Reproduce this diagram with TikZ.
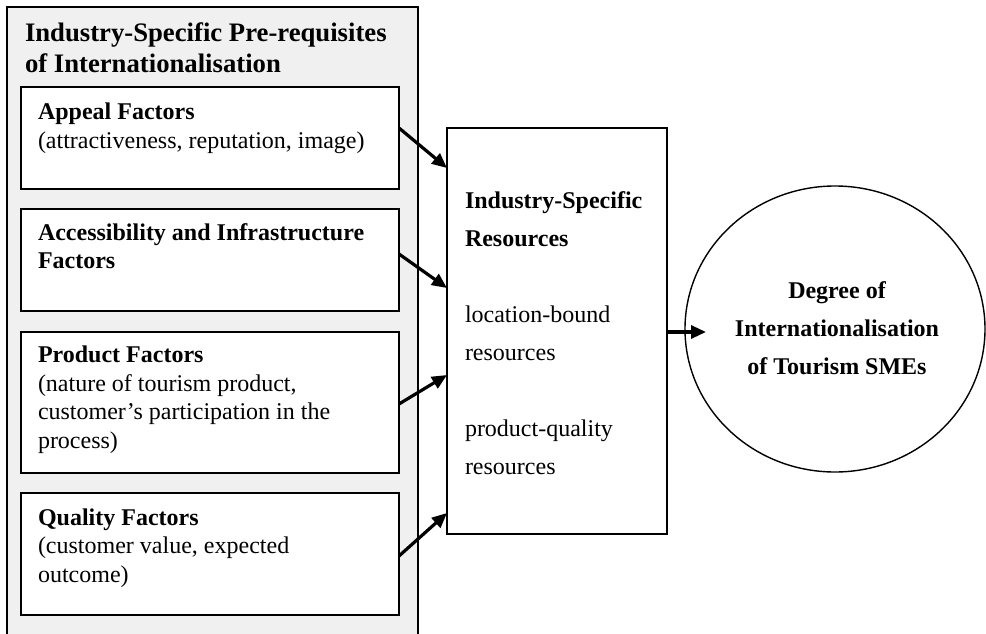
\documentclass[tikz,border=0pt]{standalone}
\usepackage{fontspec}
\setmainfont{Liberation Serif}
\usetikzlibrary{arrows.meta,shapes.geometric}
\definecolor{panelgray}{HTML}{F0F0F0}
\tikzset{
  panel/.style={draw=black, line width=1.5pt, fill=panelgray, outer sep=0pt, inner sep=0pt},
  factorbox/.style={draw=black, line width=1.4pt, fill=white, outer sep=0pt, inner sep=0pt, minimum width=378pt},
  resbox/.style={draw=black, line width=1.4pt, fill=white, outer sep=0pt, inner sep=0pt},
  goal/.style={draw=black, line width=1.4pt, ellipse, fill=white, outer sep=0pt, inner sep=0pt},
  label/.style={anchor=base west, inner sep=0pt, outer sep=0pt},
  flow/.style={line width=3.2pt, -{Triangle[length=15pt,width=13pt]}},
}
\newcommand{\bodyfont}{\fontsize{24}{28.5}\selectfont}
\begin{document}
\begin{tikzpicture}[x=1pt,y=-1pt]
  \useasboundingbox (0,0) rectangle (986,634);
  \begin{scope}
    \clip (0,0) rectangle (986,634);
    % left panel with the four factor groups
    \node[panel, minimum width=411pt, minimum height=653pt] (pre) at (212.5,333.5) {};
  \end{scope}
  \node[label] (pretitle) at (25,42) {\parbox[t]{390pt}{\fontsize{26.7}{31}\selectfont\bfseries
    Industry-Specific Pre-requisites\\of Internationalisation}};

  \node[factorbox, minimum height=102pt] (appeal) at (210,138) {};
  \node[factorbox, minimum height=102pt] (access) at (210,260) {};
  \node[factorbox, minimum height=141pt] (product) at (210,402.5) {};
  \node[factorbox, minimum height=122pt] (quality) at (210,554) {};

  \node[label] (appealtext) at (38,120) {\parbox[t]{360pt}{\bodyfont
    \textbf{Appeal Factors}\\(attractiveness, reputation, image)}};
  \node[label] (accesstext) at (38,240) {\parbox[t]{360pt}{\bodyfont\bfseries
    Accessibility and Infrastructure\\Factors}};
  \node[label] (producttext) at (38,362.7) {\parbox[t]{360pt}{\bodyfont
    \textbf{Product Factors}\\(nature of tourism product,\\customer’s participation in the\\process)}};
  \node[label] (qualitytext) at (38,525) {\parbox[t]{360pt}{\bodyfont
    \textbf{Quality Factors}\\(customer value, expected\\outcome)}};

  % industry-specific resources
  \node[resbox, minimum width=220pt, minimum height=406pt] (res) at (557,331) {};
  \node[label] (restext) at (465,208) {\parbox[t]{200pt}{\fontsize{24}{38}\selectfont
    \textbf{Industry-Specific}\\\textbf{Resources}\\[38pt]
    location-bound\\resources\\[38pt]
    product-quality\\resources}};

  % outcome
  \node[goal, minimum width=300pt, minimum height=286pt] (degree) at (835,329) {};
  \node[anchor=base, inner sep=0pt] (degreetext) at (837,298) {\parbox[t]{280pt}{\centering
    \fontsize{24}{38}\selectfont\bfseries
    Degree of\\Internationalisation\\of Tourism SMEs}};

  % connectors
  \draw[flow] ([yshift=10pt]appeal.east) -- ([yshift=-40pt]res.north west);
  \draw[flow] ([yshift=6pt]access.east) -- ([yshift=-160pt]res.north west);
  \draw[flow] ([yshift=-1.5pt]product.east) -- ([yshift=-247pt]res.north west);
  \draw[flow] ([yshift=-2pt]quality.east) -- ([yshift=21pt]res.south west);
  \draw[flow] ([yshift=-1pt]res.east) -- ([yshift=-1pt,xshift=39pt]res.east);
\end{tikzpicture}
\end{document}
